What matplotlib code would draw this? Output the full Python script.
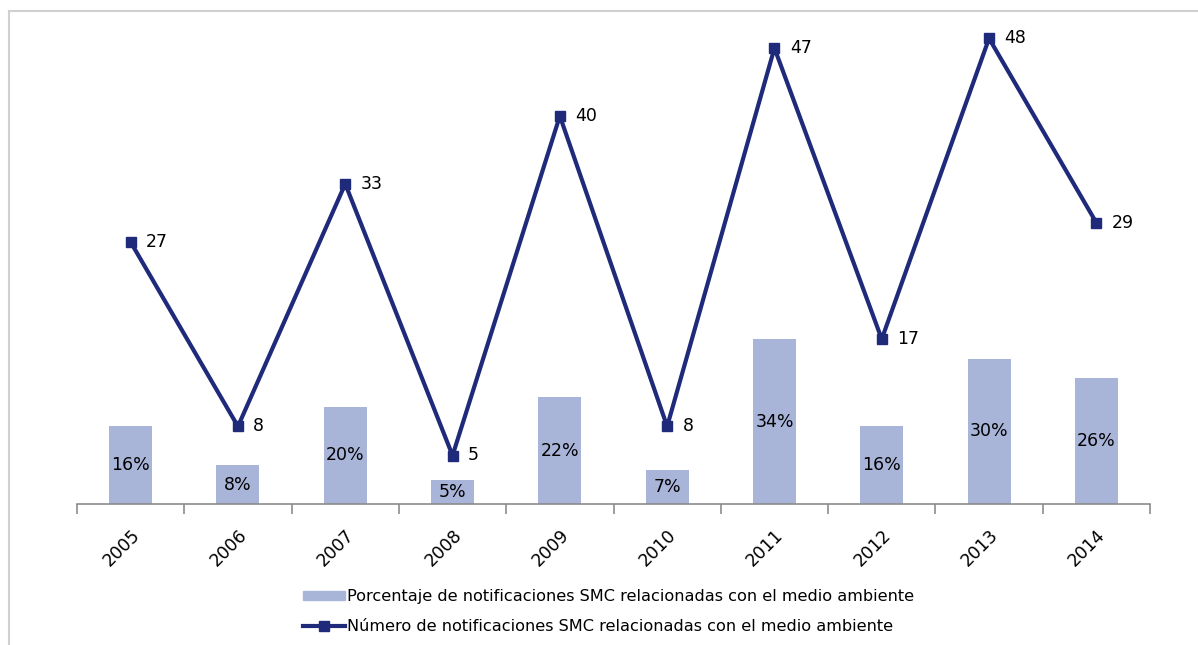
import numpy as np
import matplotlib.pyplot as plt
from matplotlib.patches import Rectangle
from matplotlib.lines import Line2D

years = ['2005', '2006', '2007', '2008', '2009', '2010', '2011', '2012', '2013', '2014']
porcentaje = [16, 8, 20, 5, 22, 7, 34, 16, 30, 26]
numero = [27, 8, 33, 5, 40, 8, 47, 17, 48, 29]

bar_color = '#a9b4d9'
line_color = '#1f2a7a'
fs = 12.5

fig = plt.figure(figsize=(11.98, 6.45), dpi=100)
fig.patches.append(Rectangle((9 / 1198, -0.1), 1.2, (645 - 11) / 645 + 0.1,
                             transform=fig.transFigure, fill=False,
                             edgecolor='#d0d0d0', linewidth=1.5))

ax = fig.add_axes([77 / 1198, (645 - 504) / 645, (1150 - 77) / 1198, (504 - 19) / 645])
x = np.arange(len(years))

ax.bar(x, porcentaje, width=0.4, color=bar_color)
ax.set_ylim(0, 100)
ax.set_xlim(-0.5, len(years) - 0.5)
for xi, v in zip(x, porcentaje):
    ax.text(xi, v / 2, f'{v}%', ha='center', va='center', fontsize=fs, color='black')

ax2 = ax.twinx()
ax2.plot(x, numero, color=line_color, linewidth=3, marker='s', markersize=7)
ax2.set_ylim(0, 50)
for xi, v in zip(x, numero):
    ax2.annotate(str(v), (xi, v), xytext=(11, 0), textcoords='offset points',
                 ha='left', va='center', fontsize=fs, color='black')

for a in (ax, ax2):
    for s in ('top', 'right', 'left'):
        a.spines[s].set_visible(False)
    a.set_yticks([])
ax2.spines['bottom'].set_visible(False)
ax.spines['bottom'].set_color('#8c8c8c')
ax.spines['bottom'].set_linewidth(1.2)

ax.set_xticks(x)
ax.set_xticklabels(years, rotation=45, ha='right', rotation_mode='anchor', fontsize=fs)
ax.tick_params(axis='x', which='major', length=0, pad=16)
ax.set_xticks(np.arange(-0.5, len(years)), minor=True)
ax.tick_params(axis='x', which='minor', length=7, width=1.2, color='#8c8c8c', direction='out')

handles = [Rectangle((0, 0), 1, 1, color=bar_color),
           Line2D([0], [0], color=line_color, linewidth=3, marker='s', markersize=7)]
labels = ['Porcentaje de notificaciones SMC relacionadas con el medio ambiente',
          'Número de notificaciones SMC relacionadas con el medio ambiente']
fig.legend(handles, labels, loc='upper left', bbox_to_anchor=(297 / 1198, (645 - 583) / 645),
           frameon=False, fontsize=11.6, handlelength=2.6, handleheight=0.5,
           handletextpad=0.1, labelspacing=0.9, borderaxespad=0)

fig.savefig('out.png', dpi=100)
